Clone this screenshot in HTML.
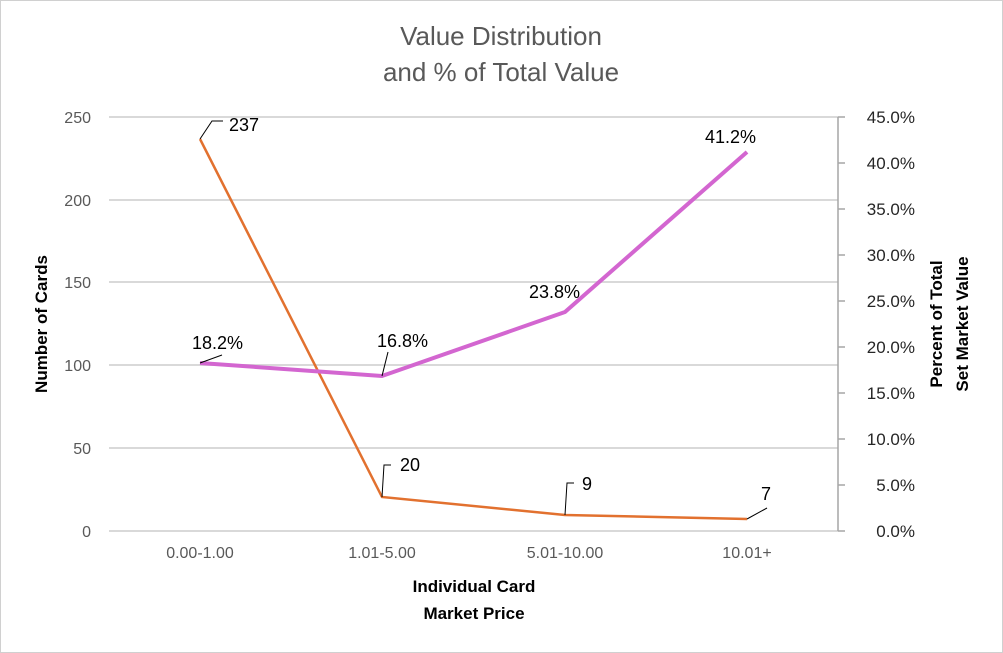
<!DOCTYPE html><html><head><style>body{margin:0;background:#fff}svg{display:block}</style></head><body>
<svg width="1003" height="653" xmlns="http://www.w3.org/2000/svg" font-family="Liberation Sans, sans-serif">
<rect x="0.5" y="0.5" width="1002" height="652" fill="#fff" stroke="#d0d0d0"/>
<text x="501" y="45" text-anchor="middle" font-size="26" fill="#595959">Value Distribution</text>
<text x="501" y="81" text-anchor="middle" font-size="26" fill="#595959">and % of Total Value</text>
<g stroke="#d9d9d9" stroke-width="2">
<line x1="109" x2="838" y1="117" y2="117"/><line x1="109" x2="838" y1="200" y2="200"/><line x1="109" x2="838" y1="282" y2="282"/><line x1="109" x2="838" y1="365" y2="365"/><line x1="109" x2="838" y1="448" y2="448"/><line x1="109" x2="838" y1="531" y2="531"/></g>
<g stroke="#a6a6a6" stroke-width="1.5"><line x1="838" x2="838" y1="117" y2="531"/>
<line x1="838" x2="845" y1="117" y2="117"/><line x1="838" x2="845" y1="163" y2="163"/><line x1="838" x2="845" y1="209" y2="209"/><line x1="838" x2="845" y1="255" y2="255"/><line x1="838" x2="845" y1="301" y2="301"/><line x1="838" x2="845" y1="347" y2="347"/><line x1="838" x2="845" y1="393" y2="393"/><line x1="838" x2="845" y1="439" y2="439"/><line x1="838" x2="845" y1="485" y2="485"/><line x1="838" x2="845" y1="531" y2="531"/></g>
<g font-size="16" fill="#595959" text-anchor="end">
<text x="91" y="123">250</text><text x="91" y="206">200</text><text x="91" y="288">150</text><text x="91" y="371">100</text><text x="91" y="454">50</text><text x="91" y="537">0</text></g>
<g font-size="17" fill="#262626" text-anchor="end">
<text x="915" y="123">45.0%</text><text x="915" y="169">40.0%</text><text x="915" y="215">35.0%</text><text x="915" y="261">30.0%</text><text x="915" y="307">25.0%</text><text x="915" y="353">20.0%</text><text x="915" y="399">15.0%</text><text x="915" y="445">10.0%</text><text x="915" y="491">5.0%</text><text x="915" y="537">0.0%</text></g>
<g font-size="16" fill="#595959" text-anchor="middle">
<text x="200" y="558">0.00-1.00</text><text x="382" y="558">1.01-5.00</text><text x="565" y="558">5.01-10.00</text><text x="747" y="558">10.01+</text></g>
<g font-size="17" font-weight="bold" fill="#000" text-anchor="middle">
<text x="474" y="592">Individual Card</text><text x="474" y="619">Market Price</text>
<text transform="translate(47,324) rotate(-90)">Number of Cards</text>
<text transform="translate(942,324) rotate(-90)">Percent of Total</text>
<text transform="translate(968,324) rotate(-90)">Set Market Value</text></g>
<polyline points="200,139 382,497 565,515 747,519" fill="none" stroke="#e2712f" stroke-width="2.5"/>
<polyline points="200,363 382,376 565,312 747,152" fill="none" stroke="#d366d0" stroke-width="4"/>
<g stroke="#000" stroke-width="1" fill="none">
<polyline points="200,139 212,121 223,121"/><polyline points="382,497 384,465 391,465"/><polyline points="565,515 567,483 574,483"/><polyline points="747,519 767,508"/><line x1="200" y1="363" x2="222" y2="355"/><line x1="382" y1="376" x2="388" y2="352"/></g>
<g font-size="18" fill="#000">
<text x="229" y="131">237</text><text x="400" y="471">20</text><text x="582" y="490">9</text><text x="761" y="500">7</text>
<text x="192" y="349">18.2%</text><text x="377" y="347">16.8%</text><text x="529" y="298">23.8%</text><text x="705" y="143">41.2%</text></g>
</svg></body></html>
